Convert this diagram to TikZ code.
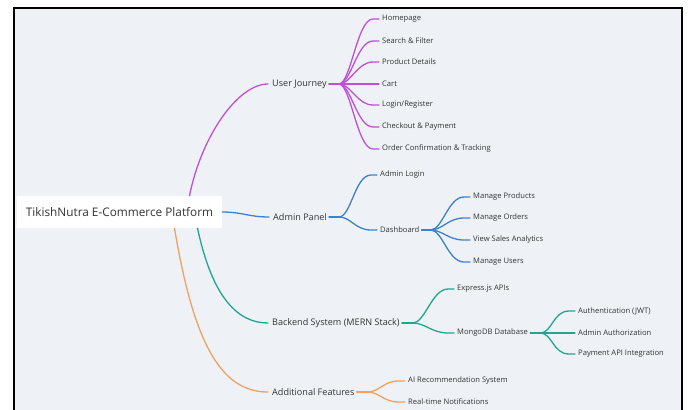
\documentclass[tikz,border=0pt]{standalone}
\usepackage{fontspec}
\setmainfont{Open Sans}
\usetikzlibrary{calc}
\definecolor{bgc}{HTML}{EEF2F6}
\definecolor{cpur}{HTML}{C04FD6}
\definecolor{cblu}{HTML}{3F80CC}
\definecolor{ctea}{HTML}{22A58C}
\definecolor{cora}{HTML}{F0A262}
\definecolor{txt}{HTML}{333333}
\tikzset{
  lvone/.style={anchor=west,inner sep=0pt,text=txt,font=\fontsize{9.1}{11}\selectfont},
  lvtwo/.style={anchor=west,inner sep=0pt,text=txt,font=\fontsize{7.6}{9}\selectfont},
  rootbox/.style={fill=white,draw=none,minimum width=205pt,minimum height=32pt,inner sep=0pt,text=txt,font=\fontsize{11.8}{13}\selectfont},
  conn/.style={line width=1.3pt,line cap=round},
}
\newcommand\kid[3]{\draw[conn,#1] (#2) .. controls +(12,0) and +(-16,0) .. ($(#3.west)+(-9,0)$) -- ($(#3.west)+(-3,0)$);}
\begin{document}
\begin{tikzpicture}[x=1pt,y=-1pt]
\useasboundingbox (0,0) rectangle (689,410);
\fill[white] (0,0) rectangle (689,410);
\fill[bgc] (14,8) rectangle (682,410);
\draw[line width=1.5pt,black] (14,410) -- (14,8) -- (682,8) -- (682,410);

% root
\node[rootbox] (root) at (119.5,212) {TikishNutra E-Commerce Platform};

% level one
\node[lvone] (uj) at (272,84) {User Journey};
\node[lvone] (ap) at (273,217) {Admin Panel};
\node[lvone] (bs) at (272,323) {Backend System (MERN Stack)};
\node[lvone] (af) at (272,392) {Additional Features};

% user journey children
\node[lvtwo] (hp) at (382,19) {Homepage};
\node[lvtwo] (sf) at (382,41) {Search \& Filter};
\node[lvtwo] (pd) at (382,62) {Product Details};
\node[lvtwo] (ct) at (382,84) {Cart};
\node[lvtwo] (lr) at (382,105) {Login/Register};
\node[lvtwo] (cp) at (382,127) {Checkout \& Payment};
\node[lvtwo] (oc) at (382,149) {Order Confirmation \& Tracking};

% admin children
\node[lvtwo] (al) at (380,175) {Admin Login};
\node[lvtwo] (db) at (380,230) {Dashboard};
\node[lvtwo] (mp) at (473,197) {Manage Products};
\node[lvtwo] (mo) at (473,218) {Manage Orders};
\node[lvtwo] (vs) at (473,240) {View Sales Analytics};
\node[lvtwo] (mu) at (473,262) {Manage Users};

% backend children
\node[lvtwo] (ex) at (457,289) {Express.js APIs};
\node[lvtwo] (md) at (457,333) {MongoDB Database};
\node[lvtwo] (au) at (578,311) {Authentication (JWT)};
\node[lvtwo] (aa) at (578,333) {Admin Authorization};
\node[lvtwo] (pa) at (578,354) {Payment API Integration};

% additional children
\node[lvtwo] (ai) at (408,381) {AI Recommendation System};
\node[lvtwo] (rt) at (408,402) {Real-time Notifications};

% fan points
\coordinate (ujf) at ($(uj.east)+(12,0)$);
\coordinate (apf) at ($(ap.east)+(12,0)$);
\coordinate (dbf) at ($(db.east)+(11,0)$);
\coordinate (bsf) at ($(bs.east)+(13,0)$);
\coordinate (mdf) at ($(md.east)+(12,0)$);
\coordinate (aff) at ($(af.east)+(13,0)$);

% root to level one
\draw[conn,cpur] ($(root.north)+(70,0)$) .. controls +(12,-60) and +(-30,0) .. ($(uj.west)+(-4,0)$);
\draw[conn,cblu] (root.east) .. controls +(20,0) and +(-20,0) .. ($(ap.west)+(-4,0)$);
\draw[conn,ctea] ($(root.south)+(78,0)$) .. controls +(15,70) and +(-30,0) .. ($(bs.west)+(-4,0)$);
\draw[conn,cora] ($(root.south)+(55,0)$) .. controls +(20,120) and +(-45,0) .. ($(af.west)+(-4,0)$);

% stubs to fan points
\draw[conn,cpur] ($(uj.east)+(2,0)$) -- (ujf);
\draw[conn,cblu] ($(ap.east)+(2,0)$) -- (apf);
\draw[conn,cblu] ($(db.east)+(2,0)$) -- (dbf);
\draw[conn,ctea] ($(bs.east)+(2,0)$) -- (bsf);
\draw[conn,ctea] ($(md.east)+(2,0)$) -- (mdf);
\draw[conn,cora] ($(af.east)+(2,0)$) -- (aff);

% children
\foreach \c in {hp,sf,pd,ct,lr,cp,oc} {\kid{cpur}{ujf}{\c}}
\foreach \c in {al,db} {\kid{cblu}{apf}{\c}}
\foreach \c in {mp,mo,vs,mu} {\kid{cblu}{dbf}{\c}}
\foreach \c in {ex,md} {\kid{ctea}{bsf}{\c}}
\foreach \c in {au,aa,pa} {\kid{ctea}{mdf}{\c}}
\foreach \c in {ai,rt} {\kid{cora}{aff}{\c}}
\end{tikzpicture}
\end{document}
